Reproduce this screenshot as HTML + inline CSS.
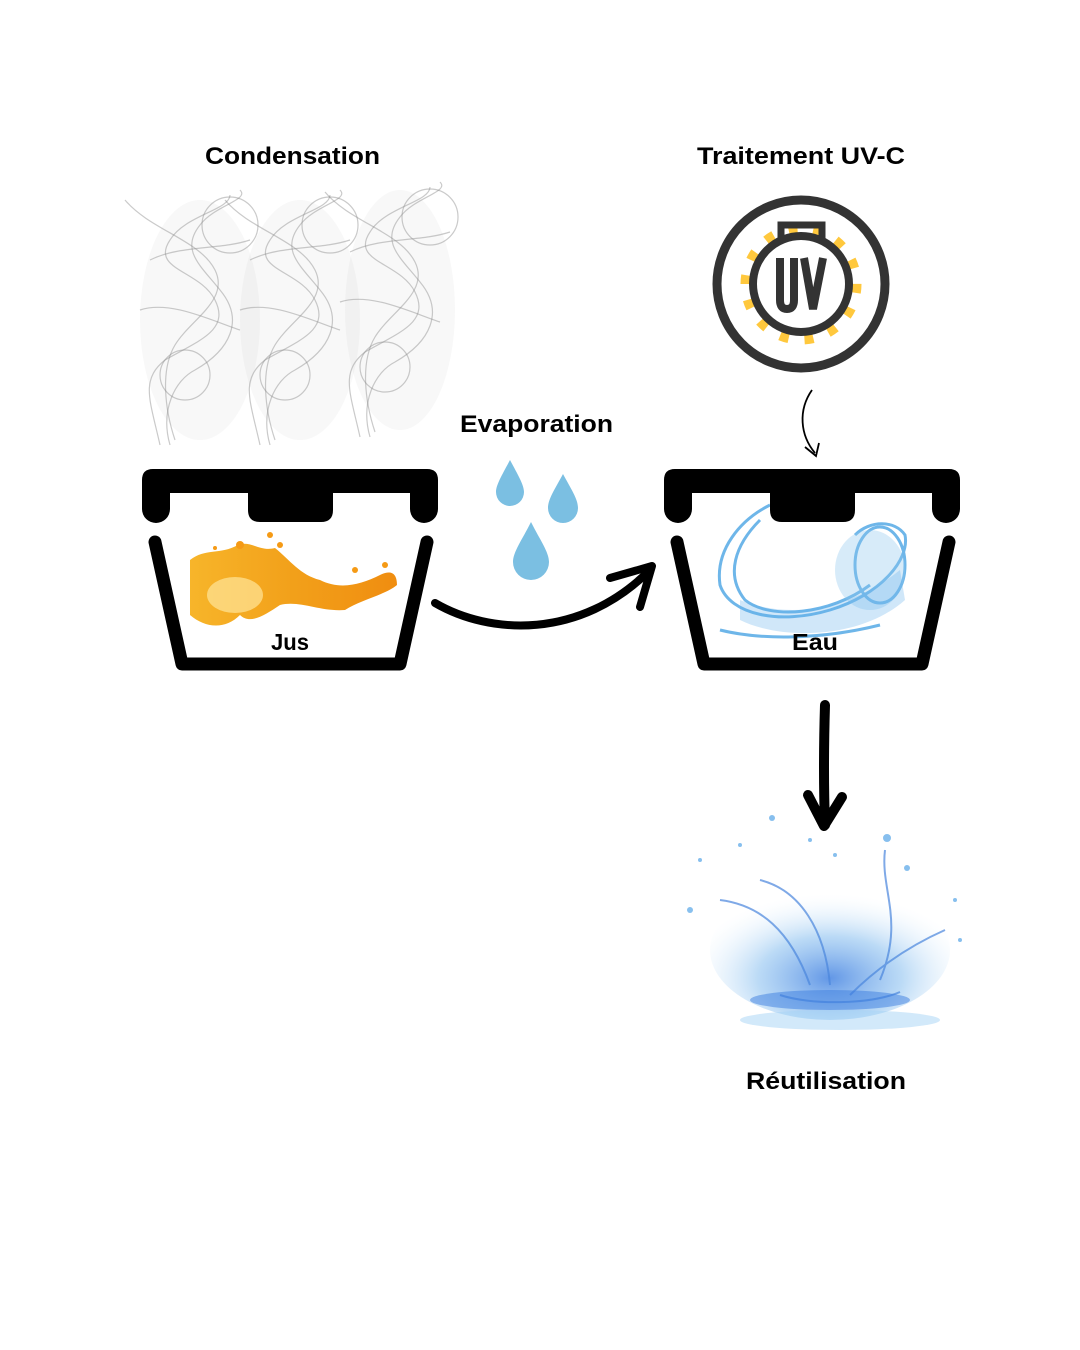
<!DOCTYPE html>
<html><head><meta charset="utf-8"><style>
html,body{margin:0;padding:0;background:#fff}
svg{display:block}
text{font-family:"Liberation Sans",sans-serif;font-weight:bold;fill:#000}
</style></head><body>
<svg width="1080" height="1350" viewBox="0 0 1080 1350" xmlns="http://www.w3.org/2000/svg">
<defs>
<radialGradient id="spl" cx="50%" cy="70%" r="60%">
<stop offset="0" stop-color="#3b7de0" stop-opacity="0.8"/>
<stop offset="0.5" stop-color="#8ec2f0" stop-opacity="0.6"/>
<stop offset="1" stop-color="#e8f4fd" stop-opacity="0"/>
</radialGradient>
<linearGradient id="jus" x1="0" y1="0" x2="1" y2="0">
<stop offset="0" stop-color="#f7b52a"/><stop offset="0.5" stop-color="#f2a01a"/><stop offset="1" stop-color="#f08d10"/>
</linearGradient>
</defs>

<text x="205" y="164" font-size="24" textLength="175" lengthAdjust="spacingAndGlyphs">Condensation</text>
<text x="697" y="164" font-size="24" textLength="208" lengthAdjust="spacingAndGlyphs">Traitement UV-C</text>
<text x="460" y="432" font-size="24" textLength="153" lengthAdjust="spacingAndGlyphs">Evaporation</text>
<text x="746" y="1089" font-size="24" textLength="160" lengthAdjust="spacingAndGlyphs">Réutilisation</text>

<g fill="none" stroke="#8a8a8a" stroke-opacity="0.45" stroke-width="1.2">
<g id="sm">
<path d="M160 445 C150 400,140 380,165 360 C200 340,230 330,215 300 C200 270,150 270,170 240 C185 215,230 210,230 195"/>
<path d="M170 445 C160 410,175 380,195 370 C230 350,245 320,220 290 C200 265,180 250,200 225 C215 205,250 200,240 190"/>
<path d="M125 200 C150 230,200 240,215 270 C230 300,190 320,175 345 C160 370,165 410,175 440"/>
<circle cx="185" cy="375" r="25"/>
<circle cx="230" cy="225" r="28"/>
<path d="M140 310 C170 300,210 320,240 330"/>
<path d="M150 260 C180 245,220 250,250 240"/>
</g>
<use href="#sm" x="100"/>
<use href="#sm" x="200" y="-8"/>
</g>
<g fill="#aaa" fill-opacity="0.08"><ellipse cx="200" cy="320" rx="60" ry="120"/><ellipse cx="300" cy="320" rx="60" ry="120"/><ellipse cx="400" cy="310" rx="55" ry="120"/></g>

<circle cx="801" cy="284" r="84" fill="none" stroke="#333" stroke-width="9"/>
<circle cx="801" cy="284" r="56" fill="none" stroke="#ffc83d" stroke-width="9" stroke-dasharray="9 16.1"/>
<path d="M781 245 V225 H822 V245" fill="none" stroke="#333" stroke-width="7"/>
<circle cx="801" cy="284" r="48" fill="#fff" stroke="#333" stroke-width="8"/>
<path d="M780 258 V300 Q780 309 787 309 Q794 309 794 300 V258" fill="none" stroke="#333" stroke-width="8"/>
<path d="M804 258 L813 309 L823 258" fill="none" stroke="#333" stroke-width="8"/>

<path d="M812 390 C798 410,800 435,815 453" fill="none" stroke="#000" stroke-width="1.8"/>
<path d="M805 447 L816 456 L819 443" fill="none" stroke="#000" stroke-width="1.8"/>

<g fill="#7bbfe2">
<path d="M510 460 C518 475,524 485,524 492 A14 14 0 0 1 496 492 C496 485,502 475,510 460Z"/>
<path d="M563 474 C571 489,578 499,578 508 A15 15 0 0 1 548 508 C548 499,555 489,563 474Z"/>
<path d="M531 522 C540 540,549 552,549 562 A18 18 0 0 1 513 562 C513 552,522 540,531 522Z"/>
</g>

<path d="M190 560 C205 548,220 555,238 545 C250 540,260 552,275 548 C290 560,300 575,320 580 C340 590,360 585,380 575 C390 570,397 572,397 585 C385 595,360 600,345 610 C320 612,300 600,280 605 C265 615,250 625,240 615 C225 630,205 628,190 615 Z" fill="url(#jus)"/>
<g fill="#f59a15"><circle cx="240" cy="545" r="4"/><circle cx="270" cy="535" r="3"/><circle cx="215" cy="548" r="2"/><circle cx="355" cy="570" r="3"/><circle cx="385" cy="565" r="3"/><circle cx="280" cy="545" r="3"/></g>
<ellipse cx="235" cy="595" rx="28" ry="18" fill="#ffe69a" opacity="0.7"/>

<g fill="none" stroke="#3e9ee2" stroke-width="3" opacity="0.75">
<path d="M770 505 C740 520,715 550,720 585 C730 615,780 625,830 610 C880 595,910 560,905 535 C895 520,870 520,855 535"/>
<path d="M760 520 C735 545,725 575,745 600 C770 620,830 615,870 585"/>
<ellipse cx="880" cy="565" rx="25" ry="38"/>
<path d="M720 630 C760 640,820 640,880 625"/>
</g>
<ellipse cx="870" cy="570" rx="35" ry="40" fill="#8cc6ef" opacity="0.35"/>
<path d="M740 600 C790 620,850 610,900 570 L905 600 C860 640,780 640,740 620Z" fill="#63b0ea" opacity="0.3"/>

<g id="box">
<path d="M142 480 Q142 469 153 469 H427 Q438 469 438 480 V509 A14 14 0 0 1 410 509 V493 H333 V510 Q333 522 321 522 H260 Q248 522 248 510 V493 H170 V509 A14 14 0 0 1 142 509 Z" fill="#000"/>
<path d="M155 542 L182 664 H400 L427 542" fill="none" stroke="#000" stroke-width="13" stroke-linecap="round" stroke-linejoin="round"/>
</g>
<use href="#box" x="522"/>

<text x="271" y="650" font-size="23" textLength="38" lengthAdjust="spacingAndGlyphs">Jus</text>
<text x="792" y="650" font-size="23" textLength="46" lengthAdjust="spacingAndGlyphs">Eau</text>

<path d="M435 603 C490 635,580 640,650 570" fill="none" stroke="#000" stroke-width="8" stroke-linecap="round"/>
<path d="M610 578 L652 566 L640 607" fill="none" stroke="#000" stroke-width="8" stroke-linecap="round" stroke-linejoin="round"/>

<path d="M825 705 Q823 770,825 825" fill="none" stroke="#000" stroke-width="10" stroke-linecap="round"/>
<path d="M808 795 L824 826 L842 797" fill="none" stroke="#000" stroke-width="10" stroke-linecap="round" stroke-linejoin="round"/>

<ellipse cx="830" cy="950" rx="120" ry="70" fill="url(#spl)"/>
<g fill="none" stroke="#4a86dd" stroke-width="2" opacity="0.7">
<path d="M720 900 C760 905,790 930,810 985"/>
<path d="M760 880 C800 890,825 930,830 985"/>
<path d="M885 850 C880 890,905 920,880 980"/>
<path d="M945 930 C900 950,870 975,850 995"/>
<path d="M780 995 C810 1005,870 1005,900 992"/>
</g>
<ellipse cx="830" cy="1000" rx="80" ry="10" fill="#3b7de0" opacity="0.5"/>
<ellipse cx="840" cy="1020" rx="100" ry="10" fill="#a6d4f5" opacity="0.5"/>
<g fill="#6ab0ea" opacity="0.8">
<circle cx="772" cy="818" r="3"/><circle cx="887" cy="838" r="4"/><circle cx="740" cy="845" r="2"/><circle cx="835" cy="855" r="2"/><circle cx="907" cy="868" r="3"/><circle cx="700" cy="860" r="2"/><circle cx="955" cy="900" r="2"/><circle cx="690" cy="910" r="3"/><circle cx="960" cy="940" r="2"/><circle cx="810" cy="840" r="2"/>
</g>
</svg>
</body></html>
